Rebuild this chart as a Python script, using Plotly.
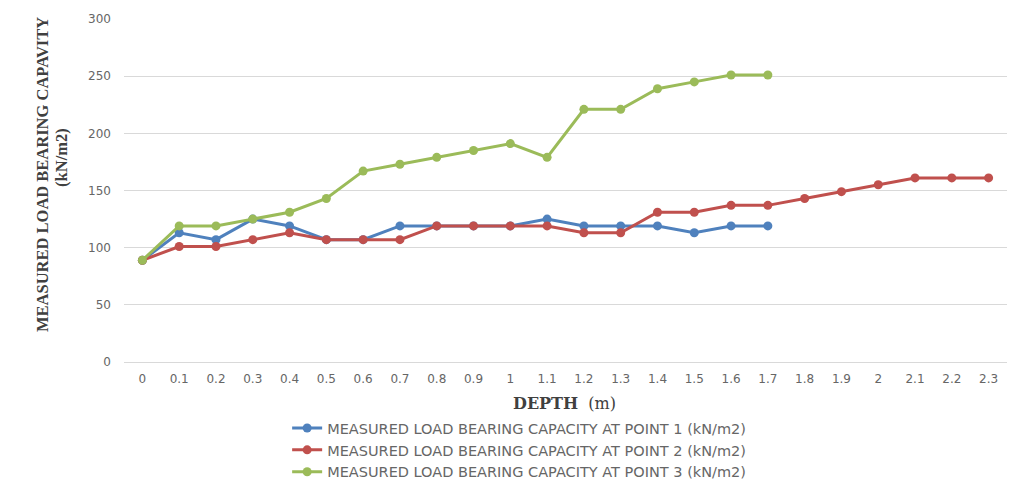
import plotly.graph_objects as go

depth = ["0", "0.1", "0.2", "0.3", "0.4", "0.5", "0.6", "0.7", "0.8", "0.9", "1", "1.1",
         "1.2", "1.3", "1.4", "1.5", "1.6", "1.7", "1.8", "1.9", "2", "2.1", "2.2", "2.3"]

point1 = [89, 113, 107, 125, 119, 107, 107, 119, 119, 119, 119, 125,
          119, 119, 119, 113, 119, 119]
point2 = [89, 101, 101, 107, 113, 107, 107, 107, 119, 119, 119, 119,
          113, 113, 131, 131, 137, 137, 143, 149, 155, 161, 161, 161]
point3 = [89, 119, 119, 125, 131, 143, 167, 173, 179, 185, 191, 179,
          221, 221, 239, 245, 251, 251]

series = [
    ("MEASURED LOAD BEARING CAPACITY AT POINT 1 (kN/m2)", point1, "#4F81BD"),
    ("MEASURED LOAD BEARING CAPACITY AT POINT 2 (kN/m2)", point2, "#C0504D"),
    ("MEASURED LOAD BEARING CAPACITY AT POINT 3 (kN/m2)", point3, "#9BBB59"),
]

fig = go.Figure()
for name, vals, color in series:
    fig.add_trace(go.Scatter(
        x=depth[:len(vals)], y=vals, name=name, mode="lines+markers",
        line=dict(color=color, width=3), marker=dict(color=color, size=9),
    ))

tick_font = dict(family="DejaVu Sans", size=12, color="#666666")
serif = "Liberation Serif"

# page body adds an 8px offset, margins are set with that in mind
fig.update_layout(
    width=1017, height=483,
    margin=dict(l=116, r=18, t=11, b=129, autoexpand=False),
    plot_bgcolor="white", paper_bgcolor="white",
    showlegend=True,
    legend=dict(x=0.4475, y=-0.146, xanchor="center", yanchor="top",
                font=dict(family="DejaVu Sans", size=14.5, color="#666666"),
                tracegroupgap=0, itemwidth=30),
    xaxis=dict(type="category", categoryorder="array", categoryarray=depth,
               range=[-0.5, 23.5], showgrid=False, showline=True,
               linecolor="#D9D9D9", linewidth=1, ticks="", tickfont=tick_font,
               ticklabelstandoff=6),
    yaxis=dict(range=[0, 300], dtick=50, showgrid=True, gridcolor="#D9D9D9",
               gridwidth=1, zeroline=False, showline=False, ticks="",
               tickfont=tick_font, ticklabelstandoff=12),
    annotations=[
        dict(text="<b>DEPTH</b>  (m)", xref="paper", yref="paper", x=0.4994, y=-0.122,
             xanchor="center", yanchor="middle", showarrow=False,
             font=dict(family="DejaVu Serif", size=16, color="#404040")),
        dict(text="<b>MEASURED LOAD BEARING CAPAVITY</b>", xref="paper", yref="paper",
             x=-0.0929, y=0.548, xanchor="center", yanchor="middle", textangle=-90,
             showarrow=False, font=dict(family=serif, size=16.5, color="#404040")),
        dict(text="<b>(kN/m2)</b>", xref="paper", yref="paper",
             x=-0.0702, y=0.595, xanchor="center", yanchor="middle", textangle=-90,
             showarrow=False, font=dict(family=serif, size=16.5, color="#404040")),
    ],
)

fig.write_html("out.html")
